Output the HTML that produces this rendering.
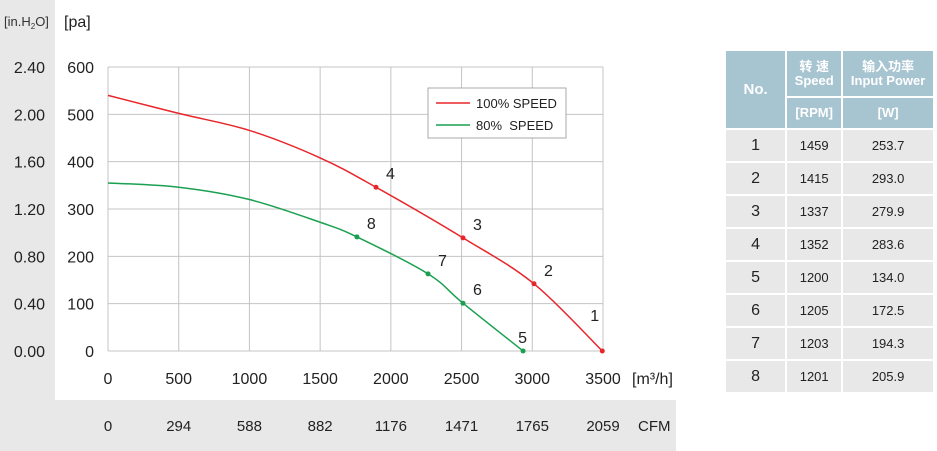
<!DOCTYPE html>
<html><head><meta charset="utf-8"><style>
body{margin:0;width:937px;height:451px;background:#fff;overflow:hidden;font-family:"Liberation Sans","Noto Sans CJK SC",sans-serif}
svg{position:absolute;left:0;top:0}
table{position:absolute;left:726px;top:49px;border-collapse:separate;border-spacing:2px;width:211px;margin-left:-2px;font-size:13px}
th{background:#a7c4d1;color:#fff;font-weight:bold;text-align:center;padding:0;line-height:14px}
td{background:#e8e8e8;text-align:center;height:31px;padding:0;color:#222}
</style></head><body>
<svg width="937" height="451">
<rect x="0" y="0" width="55" height="451" fill="#e8e8e8"/>
<rect x="0" y="400" width="676" height="51" fill="#e8e8e8"/>
<g id="grid"></g><g id="curves"></g><g id="labels" font-size="15" fill="#222"></g>
<text x="4" y="26" font-size="13" fill="#333">[in.H<tspan font-size="8" dy="3">2</tspan><tspan dy="-3">O]</tspan></text>
<text x="64" y="27" font-size="16" fill="#222">[pa]</text>
<text x="632" y="384" font-size="16" fill="#222">[m³/h]</text>
<text x="638" y="431" font-size="15" fill="#222">CFM</text>
<g>
<rect x="428" y="88" width="138" height="50" fill="#fff" stroke="#aaa"/>
<line x1="436" y1="103" x2="470" y2="103" stroke="#e8262a" stroke-width="1.5"/>
<text x="476" y="108" font-size="13" fill="#222">100% SPEED</text>
<line x1="436" y1="125" x2="470" y2="125" stroke="#1aa050" stroke-width="1.5"/>
<text x="476" y="130" font-size="13" fill="#222" style="white-space:pre">80%  SPEED</text>
</g>
</svg>
<table>
<tr><th rowspan="2" style="width:58px;font-size:15px">No.</th><th style="height:45px;width:53px">转 速<br>Speed</th><th style="width:88px">输入功率<br>Input Power</th></tr>
<tr><th style="height:30px">[RPM]</th><th>[W]</th></tr>
<tbody id="tb"></tbody>
</table>
<script>
const xTicks=[0,500,1000,1500,2000,2500,3000,3500];
const cfmTicks=["0","294","588","882","1176","1471","1765","2059"];
const paTicks=[0,100,200,300,400,500,600];
const inTicks=["0.00","0.40","0.80","1.20","1.60","2.00","2.40"];
const redFlow=[0,500,1000,1500,1895,2510,3012,3495];
const redPa=[540,502,466,408,346,239,142,0];
const greenFlow=[0,500,1000,1500,1760,2263,2510,2935];
const greenPa=[355,346,320,272,241,163,101,0];
const redPts=[[3495,0,"1"],[3012,142,"2"],[2510,239,"3"],[1895,346,"4"]];
const greenPts=[[2935,0,"5"],[2510,101,"6"],[2263,163,"7"],[1760,241,"8"]];
const rows=[["1","1459","253.7"],["2","1415","293.0"],["3","1337","279.9"],["4","1352","283.6"],["5","1200","134.0"],["6","1205","172.5"],["7","1203","194.3"],["8","1201","205.9"]];
const X=v=>108+v*(603-108)/3500, Y=v=>351-v*(351-67)/600;
const NS="http://www.w3.org/2000/svg";
function mk(tag,attrs,parent,txt){const e=document.createElementNS(NS,tag);for(const k in attrs)e.setAttribute(k,attrs[k]);if(txt!=null)e.textContent=txt;document.getElementById(parent).appendChild(e);return e;}
xTicks.forEach((t,i)=>{
 const l=mk('line',{x1:X(t),x2:X(t),y1:Y(600),y2:Y(0),stroke:'#c4c4c4'},'grid');
 
 
 const a=mk('text',{x:X(t),y:384,'text-anchor':'middle','font-size':16},'labels',String(t));
 
 
 const c=mk('text',{x:X(t),y:431,'text-anchor':'middle','font-size':15},'labels',cfmTicks[i]);
 
 
});
paTicks.forEach((t,i)=>{
 const l=mk('line',{x1:X(0),x2:X(3500),y1:Y(t),y2:Y(t),stroke:'#c4c4c4'},'grid');
 
 
 const a=mk('text',{x:94,y:Y(t)+6,'text-anchor':'end','font-size':16},'labels',String(t));
 
 
 const b=mk('text',{x:45,y:Y(t)+6,'text-anchor':'end','font-size':16},'labels',inTicks[i]);
 
 
});
function path(xs,ys){const p=xs.map((x,i)=>[X(x),Y(ys[i])]);let d=`M${p[0][0]},${p[0][1]}`;
 for(let i=0;i<p.length-1;i++){const p0=p[i-1]||p[i],p1=p[i],p2=p[i+1],p3=p[i+2]||p2;
 d+=` C${p1[0]+(p2[0]-p0[0])/6},${p1[1]+(p2[1]-p0[1])/6} ${p2[0]-(p3[0]-p1[0])/6},${p2[1]-(p3[1]-p1[1])/6} ${p2[0]},${p2[1]}`;}return d;}
const r=mk('path',{d:path(redFlow,redPa),fill:'none',stroke:'#e8262a','stroke-width':1.5},'curves');


const g=mk('path',{d:path(greenFlow,greenPa),fill:'none',stroke:'#1aa050','stroke-width':1.5},'curves');


const off={"1":[-12,-30],"5":[-5,-8]};
[[redPts,'#e8262a'],[greenPts,'#1aa050']].forEach(([pts,col])=>pts.forEach(p=>{
 const c=mk('circle',{cx:X(p[0]),cy:Y(p[1]),r:2.5,fill:col},'curves');
 
 
 const o=off[p[2]]||[10,-8];
 const t=mk('text',{x:X(p[0])+o[0],y:Y(p[1])+o[1],'font-size':16},'labels',p[2]);
 
 
}));
const tb=document.getElementById('tb');
rows.forEach(r=>{const tr=document.createElement('tr');
 
 
 r.forEach((v,i)=>{const td=document.createElement('td');td.textContent=v;td.style.fontSize=i==0?'16px':'13px';tr.appendChild(td);});tb.appendChild(tr);});
</script>
</body></html>
